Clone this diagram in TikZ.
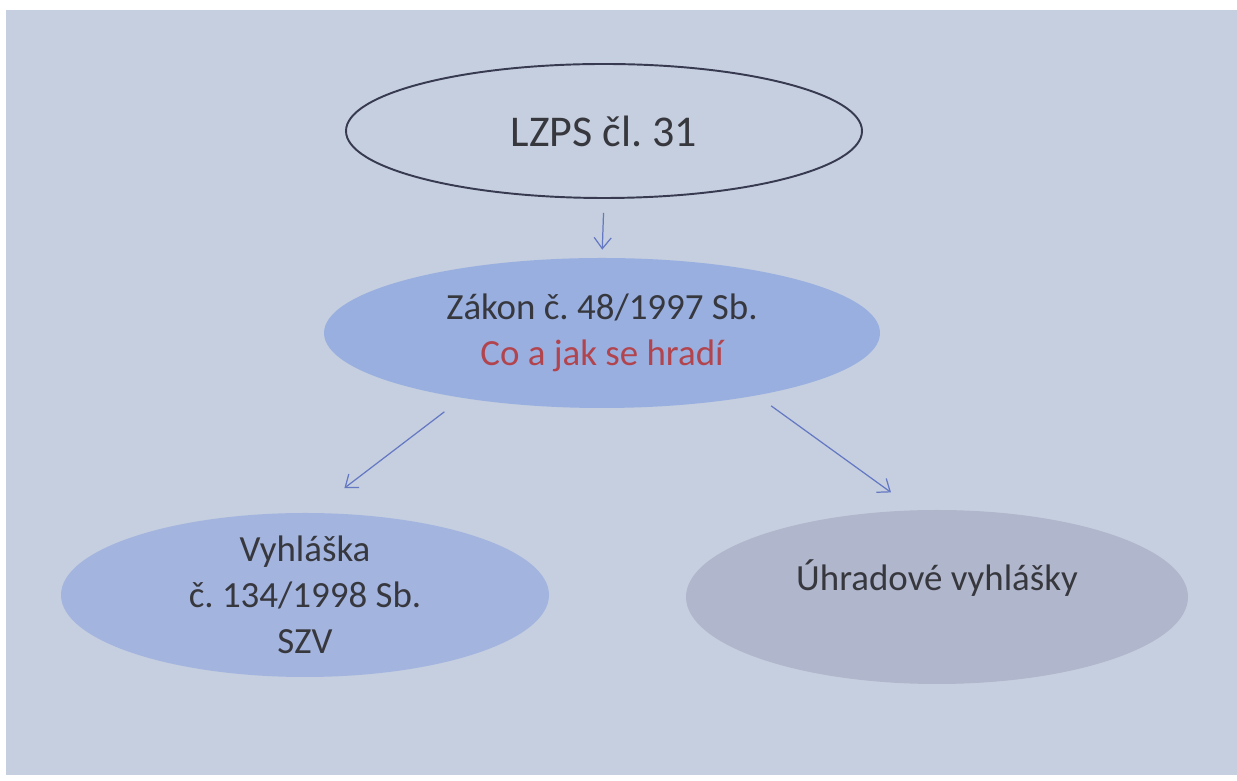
\documentclass[tikz,border=0pt]{standalone}
\usepackage{fontspec}
\setmainfont{Carlito}
\usetikzlibrary{arrows.meta,positioning,shapes.geometric}
\usetikzlibrary{calc}
\frenchspacing

\definecolor{slidebg}{RGB}{198,207,223}
\definecolor{zakonfill}{RGB}{152,175,224}
\definecolor{vyhlfill}{RGB}{163,180,223}
\definecolor{uhrfill}{RGB}{176,182,204}
\definecolor{arrowblue}{RGB}{100,120,196}
\definecolor{txtgrey}{RGB}{55,55,62}
\definecolor{txtred}{RGB}{178,68,78}
\definecolor{rimdark}{RGB}{55,58,80}

\begin{document}
\begin{tikzpicture}[
  oval/.style={ellipse, inner sep=0pt},
  lbl/.style={text=txtgrey, align=center, font=\fontsize{21}{26}\selectfont},
  arr/.style={-{Straight Barb[length=2.2mm,width=3.4mm]}, draw=arrowblue, line width=0.7pt}
]
  \useasboundingbox (0,0) rectangle (24.74,15.62);
  \fill[white] (0,0) rectangle (24.74,15.62);
  \fill[slidebg] (0.12,0.12) rectangle (24.74,15.42);

  \coordinate (lzpsc) at (12.08, 13.00);
  \coordinate (zakonc) at (12.04, 8.96);
  \coordinate (vyhlc) at (6.10, 3.72);
  \coordinate (uhrc) at (18.74, 3.68);

  \node[oval, draw=rimdark, line width=1.1pt, minimum width=10.32cm, minimum height=2.68cm] (lzps) at (lzpsc) {};
  \node[oval, fill=zakonfill, minimum width=11.12cm, minimum height=3.0cm] (zakon) at (zakonc) {};
  \node[oval, fill=vyhlfill, minimum width=9.76cm, minimum height=3.28cm] (vyhl) at (vyhlc) {};
  \node[oval, fill=uhrfill, minimum width=10.04cm, minimum height=3.48cm] (uhr) at (uhrc) {};

  \node[lbl, font=\fontsize{25}{30}\selectfont] (lzpstext) at (lzps) {LZPS čl. 31};
  \node[lbl] (zakontext) at (zakon) {Zákon č. 48/1997 Sb.\\\textcolor{txtred}{Co a jak se hradí}};
  \node[lbl] (vyhltext) at (vyhl) {Vyhláška\\č. 134/1998 Sb.\\SZV};
  \node[lbl, yshift=0.38cm] (uhrtext) at (uhr) {Úhradové vyhlášky};

  \draw[arr, shorten <=0.28cm, shorten >=0.16cm] (lzps.south) -- (zakon.north);
  \draw[arr, shorten <=0.45cm, shorten >=0.81cm] (zakon.205.7) -- (vyhl.85.4);
  \draw[arr, shorten <=0.35cm, shorten >=0.60cm] (zakon.338.9) -- (uhr.104.9);
\end{tikzpicture}
\end{document}
